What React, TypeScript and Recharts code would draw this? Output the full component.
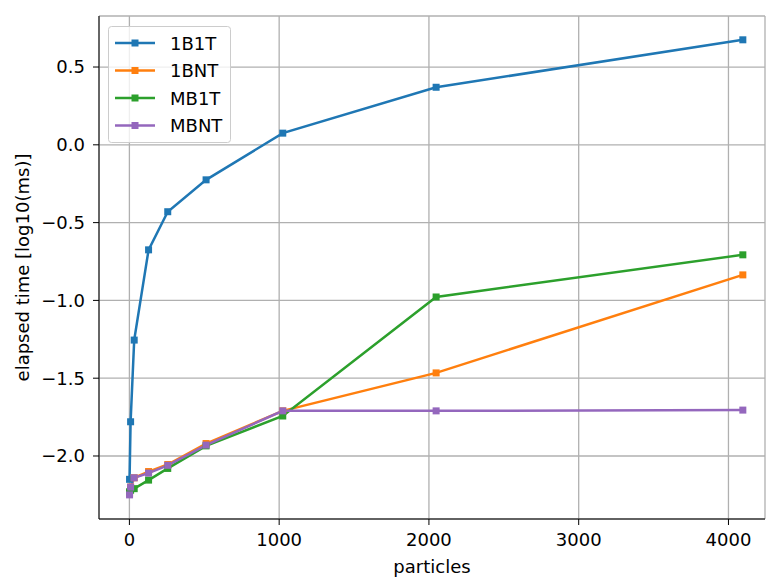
import React from "react";
import {
  CartesianGrid,
  Line,
  LineChart,
  XAxis,
  YAxis,
} from "recharts";

// ─── data (log10 of elapsed ms) ──────────────────────────────────────────────
const particles = [1, 8, 32, 128, 256, 512, 1024, 2048, 4096];
const oneB1T = [-2.15, -1.78, -1.255, -0.675, -0.43, -0.225, 0.075, 0.37, 0.675];
const oneBNT = [-2.24, -2.2, -2.14, -2.1, -2.055, -1.92, -1.71, -1.466, -0.836];
const mb1T = [-2.23, -2.22, -2.21, -2.155, -2.08, -1.935, -1.743, -0.978, -0.707];
const mbNT = [-2.25, -2.2, -2.14, -2.11, -2.06, -1.93, -1.71, -1.71, -1.705];

const xTicks = [0, 1000, 2000, 3000, 4000];
const yTicks = [-2, -1.5, -1, -0.5, 0, 0.5];

const SERIES = [
  { key: "1B1T", values: oneB1T, color: "#1f77b4" },
  { key: "1BNT", values: oneBNT, color: "#ff7f0e" },
  { key: "MB1T", values: mb1T, color: "#2ca02c" },
  { key: "MBNT", values: mbNT, color: "#9467bd" },
];

const data = particles.map((p, i) => {
  const row: Record<string, number> = { particles: p };
  for (const s of SERIES) row[s.key] = s.values[i];
  return row;
});

const FONT = "DejaVu Sans";
const FS = 18;

const fmtY = (v: number) => (v < 0 ? "\u2212" : "") + Math.abs(v).toFixed(1);

const squareDot = (color: string) => (p: any) => (
  <rect
    key={`d-${p.index}`}
    x={p.cx - 3.5}
    y={p.cy - 3.5}
    width={7}
    height={7}
    fill={color}
  />
);

// legend drawn as an overlay so it doesn't eat into the plot area
function LegendBox() {
  return (
    <svg width={124} height={118} style={{ position: "absolute", top: 26, left: 108 }}>
      <rect x={0.5} y={0.5} width={122} height={116} rx={3} fill="rgba(255,255,255,0.8)" stroke="#cccccc" />
      {SERIES.map((s, i) => {
        const cy = 17 + i * 27.5;
        return (
          <g key={s.key}>
            <line x1={7} x2={47} y1={cy} y2={cy} stroke={s.color} strokeWidth={2.5} />
            <rect x={23.5} y={cy - 3.5} width={7} height={7} fill={s.color} />
            <text x={62} y={cy} dominantBaseline="central" fontFamily={FONT} fontSize={FS} fill="#000">
              {s.key}
            </text>
          </g>
        );
      })}
    </svg>
  );
}

export default function App() {
  return (
    <div style={{ position: "absolute", top: 0, left: 0, width: 766, height: 577, background: "#fff" }}>
      <LineChart width={766} height={577} data={data} margin={{ top: 16, right: 1, bottom: 0, left: 0 }}>
        <CartesianGrid stroke="#b0b0b0" strokeWidth={1.3} />
        <XAxis
          type="number"
          dataKey="particles"
          domain={[-203, 4244]}
          ticks={xTicks}
          allowDataOverflow
          height={58}
          stroke="#000"
          tickSize={6}
          tickMargin={8}
          tick={{ fill: "#000", fontFamily: FONT, fontSize: FS }}
          label={(props: any) => {
            const vb = props.viewBox;
            return (
              <text x={vb.x + vb.width / 2} y={566} textAnchor="middle" dominantBaseline="central" fontFamily={FONT} fontSize={FS} fill="#000">
                particles
              </text>
            );
          }}
        />
        <XAxis xAxisId="top" orientation="top" type="number" domain={[-203, 4244]} height={0} tick={false} tickLine={false} stroke="#000" />
        <YAxis
          type="number"
          domain={[-2.405, 0.828]}
          ticks={yTicks}
          allowDataOverflow
          width={99}
          stroke="#000"
          tickSize={6}
          tickMargin={8}
          tickFormatter={fmtY}
          tick={{ fill: "#000", fontFamily: FONT, fontSize: FS }}
          label={(props: any) => {
            const vb = props.viewBox;
            const cy = vb.y + vb.height / 2;
            return (
              <text x={22} y={cy} transform={`rotate(-90, 22, ${cy})`} textAnchor="middle" dominantBaseline="central" fontFamily={FONT} fontSize={FS} fill="#000">
                elapsed time [log10(ms)]
              </text>
            );
          }}
        />
        <YAxis yAxisId="right" orientation="right" width={0} tick={false} tickLine={false} stroke="#000" />
        {SERIES.map((s) => (
          <Line
            key={s.key}
            dataKey={s.key}
            stroke={s.color}
            strokeWidth={2.5}
            dot={squareDot(s.color)}
            activeDot={false}
            isAnimationActive={false}
          />
        ))}
      </LineChart>
      <LegendBox />
    </div>
  );
}
